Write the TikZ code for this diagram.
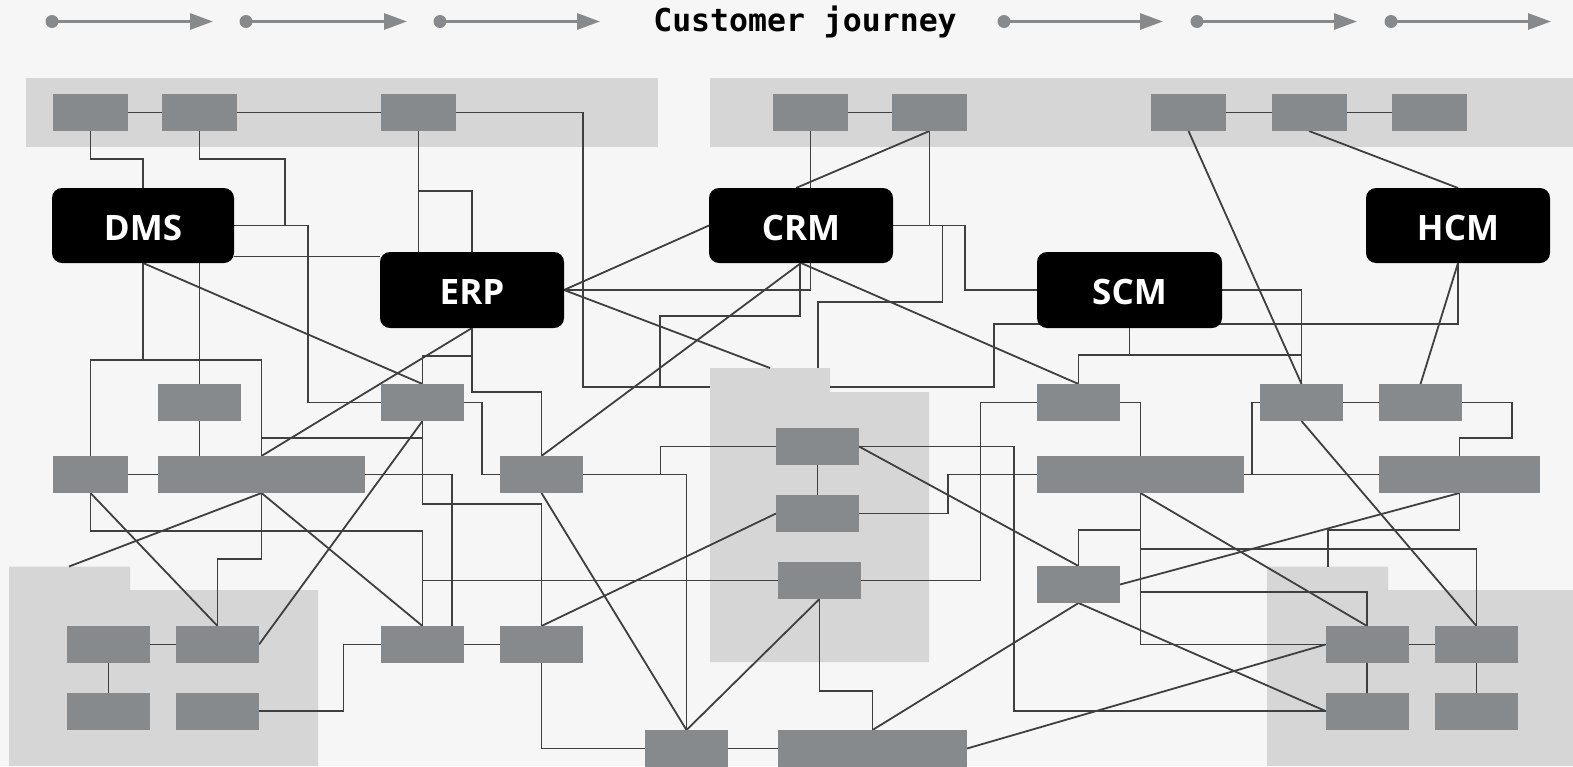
\documentclass[tikz,border=0pt]{standalone}
\usepackage{fontspec}
\newfontfamily\labelfont{Open Sans}
\newfontfamily\titlefont{DejaVu Sans Mono}
\usetikzlibrary{arrows.meta,calc}
\definecolor{bgc}{HTML}{F6F6F6}
\definecolor{panelc}{HTML}{D6D6D6}
\definecolor{boxc}{HTML}{878A8D}
\definecolor{linec}{HTML}{3F3F3F}
\pgfdeclarelayer{pan}
\pgfdeclarelayer{lin}
\pgfsetlayers{pan,lin,main}
\begin{document}
\begin{tikzpicture}[x=1pt,y=-1pt,
  gbox/.style={fill=boxc,draw=none,inner sep=0pt,outer sep=0pt,minimum height=37},
  sbox/.style={gbox,minimum width=75},
  mbox/.style={gbox,minimum width=83},
  bbox/.style={fill=black,draw=none,rounded corners=10pt,inner sep=0pt,outer sep=0pt,
    text=white,text height=29pt,text depth=0pt,font=\labelfont\bfseries\fontsize{35}{35}\selectfont},
  conn/.style={draw=linec,line width=1.8pt},
  panel/.style={fill=panelc,draw=none},
  harrow/.style={draw=boxc,line width=3pt,-{Triangle[length=23pt,width=16pt]}}]
\useasboundingbox (0,0) rectangle (1573,766);
\begin{pgfonlayer}{pan}
\fill[bgc] (0,0) rectangle (1573,766);
\fill[panel] (26,78) rectangle (658,147);
\fill[panel] (710,78) rectangle (1573,147);
\fill[panel] (710,368) -- (830,368) -- (830,392) -- (929,392) -- (929,662) -- (710,662) -- cycle;
\fill[panel] (9,566.5) -- (130,566.5) -- (130,590) -- (318,590) -- (318,766) -- (9,766) -- cycle;
\fill[panel] (1267,566.5) -- (1388,566.5) -- (1388,590) -- (1573,590) -- (1573,766) -- (1267,766) -- cycle;
\end{pgfonlayer}
% panel attachment points
\coordinate (mpA) at (770,368);
\coordinate (mpT) at (818,368);
\coordinate (mpL) at (710,386.7);
\coordinate (mpR) at (830,386.7);
\coordinate (blT) at (69,566.5);
\coordinate (brT) at (1328,566.5);
\coordinate (j1) at (660,386.7);
% nodes
\node[sbox] (A1) at (90.5,112.5) {};
\node[sbox] (A2) at (199.5,112.5) {};
\node[sbox] (A3) at (418.5,112.5) {};
\node[sbox] (B1) at (810.5,112.5) {};
\node[sbox] (B2) at (929.5,112.5) {};
\node[sbox] (B3) at (1188.5,112.5) {};
\node[sbox] (B4) at (1309,112.5) {};
\node[sbox] (B5) at (1429.5,112.5) {};
\node[bbox,minimum width=182,minimum height=75] (DMS) at (143,225.5) {DMS};
\node[bbox,minimum width=184,minimum height=76] (ERP) at (472,290) {ERP};
\node[bbox,minimum width=184,minimum height=75] (CRM) at (801,225.5) {CRM};
\node[bbox,minimum width=185,minimum height=76] (SCM) at (1129.5,290) {SCM};
\node[bbox,minimum width=184,minimum height=75] (HCM) at (1458,225.5) {HCM};
\node[mbox] (P1) at (199.5,402.5) {};
\node[mbox] (P2) at (422.5,402.5) {};
\node[mbox] (Q1) at (1078.5,402.5) {};
\node[mbox] (Q2) at (1301.5,402.5) {};
\node[mbox] (Q3) at (1420.5,402.5) {};
\node[sbox] (R1) at (90.5,474.5) {};
\node[gbox,minimum width=207] (R2) at (261.5,474.5) {};
\node[mbox] (R3) at (541.5,474.5) {};
\node[gbox,minimum width=207] (S1) at (1140.5,474.5) {};
\node[gbox,minimum width=161] (S2) at (1459.5,474.5) {};
\node[mbox] (R4) at (817.5,446.5) {};
\node[mbox] (R5) at (817.5,513.5) {};
\node[mbox] (R6) at (819.5,580.5) {};
\node[mbox] (S3) at (1078.5,584.5) {};
\node[mbox] (L1) at (108.5,644.5) {};
\node[mbox] (L2) at (217.5,644.5) {};
\node[mbox] (L3) at (108.5,711) {};
\node[mbox] (L4) at (217.5,711) {};
\node[mbox] (M1) at (422.5,644.5) {};
\node[mbox] (M2) at (541.5,644.5) {};
\node[mbox] (T1) at (1367,644.5) {};
\node[mbox] (T2) at (1476.5,644.5) {};
\node[mbox] (T3) at (1367,711) {};
\node[mbox] (T4) at (1476.5,711) {};
\node[mbox] (N1) at (686.5,748.5) {};
\node[gbox,minimum width=189] (N2) at (872.5,748.5) {};
% connectors
\begin{pgfonlayer}{lin}
% top rows
\draw[conn] (A1.east) -- (A2.west);
\draw[conn] (A2.east) -- (A3.west);
\draw[conn] (B1.east) -- (B2.west);
\draw[conn] (B3.east) -- (B4.west);
\draw[conn] (B4.east) -- (B5.west);
% DMS
\draw[conn] (A1.south) |- (DMS.north |- 0,159) -- (DMS.north);
\draw[conn] (A2.south) |- (285,159) |- (DMS.east);
\draw[conn] (DMS.east) -- (308,225.5) |- (P2.west);
\draw[conn] (DMS.east |- 0,256.5) -- (ERP.west |- 0,256.5);
\draw[conn] (DMS.south) -- (DMS.south |- 0,360);
\draw[conn] (R1.north) |- (R2.north |- 0,360) -- (R2.north);
\draw[conn] (DMS.south -| P1.north) -- (P1.north);
\draw[conn] (DMS.south) -- (P2.north);
% ERP
\draw[conn] (A3.south) -- (A3.south |- ERP.north);
\draw[conn] (A3.south) |- (ERP.north |- 0,190.7) -- (ERP.north);
\draw[conn] (ERP.south) -- (R2.north);
\draw[conn] (ERP.south) |- (P2.north |- 0,355.7) -- (P2.north);
\draw[conn] (ERP.south) |- (R3.north |- 0,392) -- (R3.north);
\draw[conn] (ERP.east) -- (CRM.west);
\draw[conn] (ERP.east) -| (CRM.south -| B1.south);
\draw[conn] (ERP.east) -- (mpA);
\draw[conn] (A3.east) -- (583,112.5) -- (583,386.7) -- (mpL);
% CRM
\draw[conn] (CRM.south -| 800,0) |- (660,315.7) -- (j1);
\draw[conn] (CRM.south) -- (R3.north);
\draw[conn] (CRM.south) -- (Q1.north);
\draw[conn] (B1.south) -- (CRM.north -| B1.south);
\draw[conn] (B2.south) -- ([xshift=-5pt]CRM.north);
\draw[conn] (B2.south) -- (B2.south |- CRM.east);
\draw[conn] (CRM.east) -- (965,225.5) |- (SCM.west);
\draw[conn] (CRM.east) -| (942.5,302.3) -| (mpT);
% SCM / HCM
\draw[conn] (mpR) -| (994,324.3) -| (HCM.south);
\draw[conn] (SCM.east) -| (Q2.north);
\draw[conn] (Q1.north) |- (Q2.north |- 0,355);
\draw[conn] (SCM.south) -- (SCM.south |- 0,355);
\draw[conn] (B3.south) -- (Q2.north);
\draw[conn] (B4.south) -- (HCM.north);
\draw[conn] (HCM.south) -- (Q3.north);
% middle left
\draw[conn] (P2.east) -- (482,402.5) |- (R3.west);
\draw[conn] (P2.south) -- (L2.east);
\draw[conn] (P2.south) |- (R2.north |- 0,438.3);
\draw[conn] (P2.south) |- (R3.south |- 0,504.3) -- (M2.north);
\draw[conn] (R2.east) -| (M1.north -| 452,0);
\draw[conn] (R1.south) |- (M1.north |- 0,530.7) -- (M1.north);
\draw[conn] (R6.west) -| (M1.north);
\draw[conn] (R1.south) -- (L2.north);
\draw[conn] (R2.south) -- (blT);
\draw[conn] (R2.south) |- (L2.north |- 0,559) -- (L2.north);
\draw[conn] (R2.south) -- (M1.north);
\draw[conn] (P1.south) -- (P1.south |- R2.north);
\draw[conn] (R1.east) -- (R2.west);
\draw[conn] (L1.east) -- (L2.west);
\draw[conn] (L1.south) -- (L3.north);
\draw[conn] (L4.east) -- (343.5,711) |- (M1.west);
\draw[conn] (M1.east) -- (M2.west);
% center
\draw[conn] (R3.east) -- (660.5,474.5) |- (R4.west);
\draw[conn] (R3.east) -| (N1.north);
\draw[conn] (R3.south) -- (N1.north);
\draw[conn] (M2.south) |- (N1.west);
\draw[conn] (M2.north) -- (R5.west);
\draw[conn] (R6.south) -- (N1.north);
\draw[conn] (R6.south) |- (N2.north |- 0,691) -- (N2.north);
\draw[conn] (N1.east) -- (N2.west);
\draw[conn] (N2.east) -- (T1.west);
\draw[conn] (N2.north) -- (S3.south);
\draw[conn] (R4.south) -- (R5.north);
\draw[conn] (R4.east) -- (1014,446.5) |- (T3.west);
\draw[conn] (R4.east) -- (S3.north);
\draw[conn] (R5.east) -- (948,513.5) |- (S1.west);
\draw[conn] (R6.east) -- (980.5,580.5) |- (Q1.west);
% right
\draw[conn] (Q1.east) -| (S1.north);
\draw[conn] (S1.east) -- (1252,474.5) |- (Q2.west);
\draw[conn] (S1.east) -- (S2.west);
\draw[conn] (Q2.east) -- (Q3.west);
\draw[conn] (Q3.east) -| (1512,438.3) -| (S2.north);
\draw[conn] (Q2.south) -- (T2.north);
\draw[conn] (S2.south) |- (1328,530) -- (brT);
\draw[conn] (S2.south) -- (S3.east);
\draw[conn] (S1.south) |- (T1.west);
\draw[conn] (S1.south) |- (T2.north |- 0,549) -- (T2.north);
\draw[conn] (S1.south) |- (T1.north |- 0,592.3) -- (T1.north);
\draw[conn] (S3.north) |- (S1.south |- 0,530);
\draw[conn] (S1.south) -- (T1.north);
\draw[conn] (S3.south) -- (T3.west);
\draw[conn] (T1.east) -- (T2.west);
\draw[conn] (T1.south) -- (T3.north);
\draw[conn] (T2.south) -- (T4.north);
\end{pgfonlayer}
% header
\node[anchor=base,inner sep=0pt,font=\titlefont\bfseries\fontsize{31.5}{31.5}\selectfont] (title) at (805,31) {Customer journey};
\foreach \s/\e [count=\i] in {52/213,246/407,440/600,1004/1163,1197/1357,1391/1551}{
  \coordinate (hs\i) at (\s,21.5);
  \coordinate (he\i) at (\e,21.5);
  \draw[harrow] (hs\i) -- (he\i);
  \fill[boxc] (hs\i) circle (6.5);
}
\end{tikzpicture}
\end{document}
